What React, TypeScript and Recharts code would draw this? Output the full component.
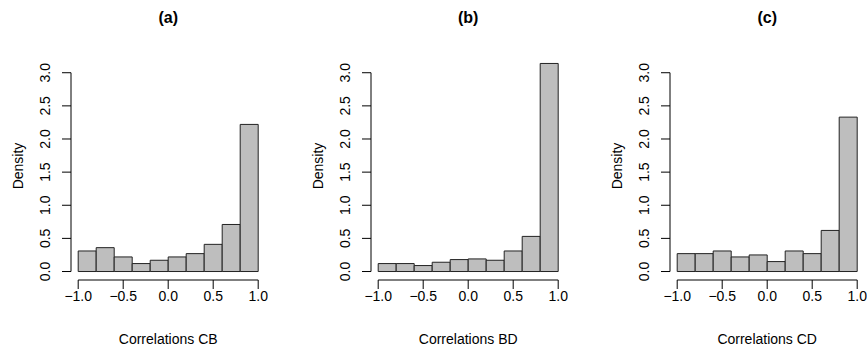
import React from "react";
import { ComposedChart, Bar, XAxis, YAxis, ReferenceLine } from "recharts";

// histogram bins of width 0.2 from -1 to 1
const binStarts = [-1.0, -0.8, -0.6, -0.4, -0.2, 0.0, 0.2, 0.4, 0.6, 0.8];
const densityCB = [0.31, 0.36, 0.22, 0.12, 0.17, 0.22, 0.27, 0.41, 0.71, 2.22];
const densityBD = [0.12, 0.12, 0.09, 0.14, 0.18, 0.19, 0.17, 0.31, 0.53, 3.14];
const densityCD = [0.27, 0.27, 0.31, 0.22, 0.25, 0.15, 0.31, 0.27, 0.62, 2.33];
const xTicks = [-1, -0.5, 0, 0.5, 1];
const yTicks = [0, 0.5, 1, 1.5, 2, 2.5, 3];

const panels = [
  { title: "(a)", xlabel: "Correlations CB", values: densityCB, left: 0 },
  { title: "(b)", xlabel: "Correlations BD", values: densityBD, left: 300 },
  { title: "(c)", xlabel: "Correlations CD", values: densityCD, left: 599 }
];

const FONT = "'Liberation Sans', Arial, Helvetica, sans-serif";
const W = 268;
const H = 352;
const YW = 71;
const PLOT_W = 194.4;
const fmt = (v: number) => (v < 0 ? "\u2212" : "") + Math.abs(v).toFixed(1);

function XTick({ x, y, payload }: any) {
  return (
    <text x={x} y={y} dy="0.71em" textAnchor="middle" fill="#000" fontSize={14} fontFamily={FONT}>
      {fmt(payload.value)}
    </text>
  );
}

function YTick({ x, y, payload }: any) {
  const bx = x - 10;
  return (
    <text x={bx} y={y} transform={`rotate(-90, ${bx}, ${y})`} textAnchor="middle" fill="#000" fontSize={14} fontFamily={FONT}>
      {fmt(payload.value)}
    </text>
  );
}

function Panel({ title, xlabel, values, left }: { title: string; xlabel: string; values: number[]; left: number }) {
  const data = binStarts.map((b, i) => ({ bin: b.toFixed(1), mid: b + 0.1, density: values[i] }));
  const cx = YW + PLOT_W / 2;
  return (
    <div style={{ position: "absolute", left, top: 0, width: W, height: H }}>
      <ComposedChart width={W} height={H} data={data} barCategoryGap={0} margin={{ top: 51, right: W - YW - PLOT_W, bottom: 0, left: 0 }}>
        <XAxis xAxisId="bins" dataKey="bin" hide orientation="top" height={0} padding={{ left: 7.2, right: 7.2 }} />
        <XAxis
          xAxisId="num"
          dataKey="mid"
          type="number"
          domain={[-1.08, 1.08]}
          allowDataOverflow
          ticks={xTicks}
          height={72}
          axisLine={false}
          tickSize={9}
          tickLine={{ stroke: "#000", strokeWidth: 1 }}
          tick={<XTick />}
          interval={0}
        />
        <YAxis
          type="number"
          domain={[-0.128, 3.328]}
          allowDataOverflow
          ticks={yTicks}
          width={YW}
          axisLine={false}
          tickSize={9}
          tickLine={{ stroke: "#000", strokeWidth: 1 }}
          tick={<YTick />}
          interval={0}
        />
        <ReferenceLine xAxisId="num" ifOverflow="visible" stroke="#000" strokeWidth={1}
          segment={[{ x: -1, y: -0.128 }, { x: 1, y: -0.128 }]} />
        <ReferenceLine xAxisId="num" ifOverflow="visible" stroke="#000" strokeWidth={1}
          segment={[{ x: -1.08, y: 0 }, { x: -1.08, y: 3 }]} />
        <Bar xAxisId="bins" dataKey="density" fill="#bebebe" stroke="#222" strokeWidth={1} isAnimationActive={false} />
      </ComposedChart>
      <div style={{ position: "absolute", left: cx - 60, width: 120, top: 10, lineHeight: "16px", fontSize: 16, fontWeight: "bold", textAlign: "center", fontFamily: FONT }}>
        {title}
      </div>
      <div style={{ position: "absolute", left: cx - 100, width: 200, top: 332, lineHeight: "14px", fontSize: 14, textAlign: "center", fontFamily: FONT }}>
        {xlabel}
      </div>
      <div style={{ position: "absolute", left: 18 - 50, width: 100, top: 165.5 - 7, lineHeight: "14px", fontSize: 14, textAlign: "center", fontFamily: FONT, transform: "rotate(-90deg)" }}>
        Density
      </div>
    </div>
  );
}

export default function App() {
  return (
    <div style={{ position: "absolute", left: 0, top: 0, width: 867, height: 352, background: "#fff", overflow: "hidden" }}>
      {panels.map((p) => (
        <Panel key={p.title} {...p} />
      ))}
    </div>
  );
}
